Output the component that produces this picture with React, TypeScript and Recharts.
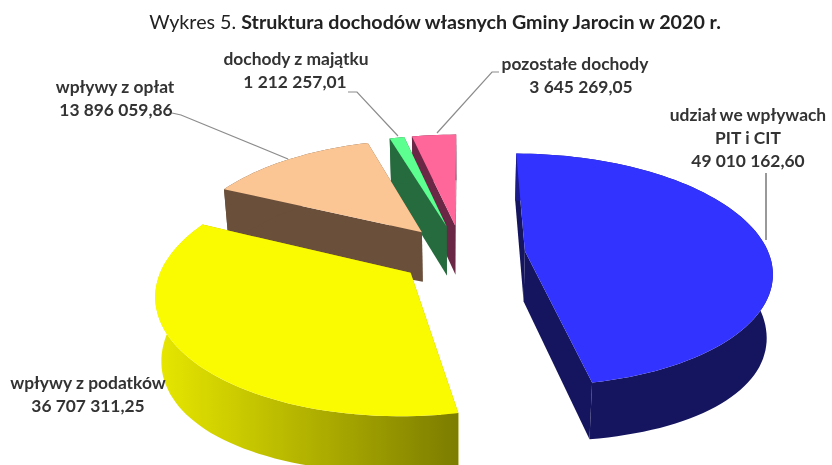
import { Pie, PieChart } from 'recharts';

// drawn back to front, so the list runs anticlockwise from 12 o'clock
const names = ['pozostałe dochody', 'dochody z majątku', 'wpływy z opłat', 'wpływy z podatków', 'udział we wpływach PIT i CIT'];
const values = [3645269.05, 1212257.01, 13896059.86, 36707311.25, 49010162.6];
const valueLabels = ['3 645 269,05', '1 212 257,01', '13 896 059,86', '36 707 311,25', '49 010 162,60'];
const topColors = ['#ff6699', '#5cff90', '#fbc694', '#fafa00', '#3333ff'];
const sideColors = ['#6b2746', '#266b3e', '#6a4f3b', '#b5b500', '#15155f'];

const data = names.map((name, i) => ({ name, value: values[i] }));

const WIDTH = 832;
const HEIGHT = 465;
const CX = 462;
const CY = 254;
const RADIUS = 244;
const TILT = 0.467;
const PERSPECTIVE = 0.16;
const EXPLODE = 0.26;
const DEPTH = 50;

const labelLayout = [
  { x: 575, y: 70, lines: ['pozostałe dochody'], valueX: 581, leader: '437,133 492,72 499,72', stroke: '#8c8c8c' },
  { x: 296, y: 65, lines: ['dochody z majątku'], valueX: 295, leader: '398,136 357,92 348,92', stroke: '#8c8c8c' },
  { x: 115, y: 93, lines: ['wpływy z opłat'], valueX: 116, leader: '172,113 181,115 288,159', stroke: '#8c8c8c' },
  { x: 88, y: 389, lines: ['wpływy z podatków'], valueX: 88, leader: '', stroke: '' },
  { x: 748, y: 121, lines: ['udział we wpływach', 'PIT i CIT'], valueX: 748, leader: '766,173 766,240', stroke: '#555555' },
];

type Pt = [number, number, number];

function project(u: number, v: number): Pt {
  const w = 1 + PERSPECTIVE * v;
  return [CX + (RADIUS * u) / w, CY - (RADIUS * TILT * v) / w, w];
}

// bottom rim of the slab, a bit deeper towards the far left and right
function drop(p: Pt): Pt {
  const side = (p[0] - CX) / RADIUS;
  return [CX + (p[0] - CX) * 0.98, p[1] + DEPTH / Math.sqrt(p[2]) + 8 * side * side, p[2]];
}

function toPath(points: Pt[]) {
  return 'M' + points.map((p) => `${p[0].toFixed(1)},${p[1].toFixed(1)}`).join('L') + 'Z';
}

function Slice3D(props: any) {
  const { startAngle, endAngle, index } = props;
  const rad = Math.PI / 180;
  const mid = ((startAngle + endAngle) / 2) * rad;
  const offU = EXPLODE * Math.cos(mid);
  const offV = EXPLODE * Math.sin(mid);

  const arc: Pt[] = [];
  const steps = Math.max(2, Math.ceil((endAngle - startAngle) / 2));
  for (let i = 0; i <= steps; i++) {
    const a = (startAngle + ((endAngle - startAngle) * i) / steps) * rad;
    arc.push(project(offU + Math.cos(a), offV + Math.sin(a)));
  }
  const apex = project(offU, offV);
  const first = arc[0];
  const last = arc[arc.length - 1];
  const lowered = arc.map(drop);
  const gradId = `side-${index}`;

  return (
    <g>
      <defs>
        {index === 3 && (
          <linearGradient id={gradId} x1="0" y1="0" x2="1" y2="0">
            <stop offset="0" stopColor="#e8e800" />
            <stop offset="1" stopColor="#7c7c00" />
          </linearGradient>
        )}
        {index === 4 && (
          <linearGradient id={gradId} x1="0" y1="0" x2="1" y2="0">
            <stop offset="0" stopColor="#1b1b8c" />
            <stop offset="0.3" stopColor="#15155f" />
            <stop offset="1" stopColor="#15155f" />
          </linearGradient>
        )}
      </defs>
      <path d={toPath([apex, first, drop(first), drop(apex)])} fill={sideColors[index]} />
      <path d={toPath([apex, last, drop(last), drop(apex)])} fill={sideColors[index]} />
      <path
        d={toPath([...arc, ...lowered.reverse()])}
        fill={index >= 3 ? `url(#${gradId})` : sideColors[index]}
      />
      <path d={toPath([apex, ...arc])} fill={topColors[index]} />
    </g>
  );
}

function SliceLabel(props: any) {
  const { index } = props;
  const item = labelLayout[index];
  const lineGap = 23;
  return (
    <g>
      {item.leader && <polyline points={item.leader} fill="none" stroke={item.stroke} strokeWidth={1.2} />}
      <text fontFamily="Lato" fontWeight={700} fontSize={17.4} fill="#333333" textAnchor="middle">
        {item.lines.map((line, i) => (
          <tspan key={line} x={item.x} y={item.y + i * lineGap}>
            {line}
          </tspan>
        ))}
        <tspan x={item.valueX} y={item.y + item.lines.length * lineGap}>
          {valueLabels[index]}
        </tspan>
      </text>
    </g>
  );
}

export default function App() {
  return (
    <div style={{ position: 'absolute', left: 0, top: 0, width: WIDTH, height: HEIGHT, background: '#fff', overflow: 'hidden', filter: 'blur(0.4px)' }}>
      <div
        style={{
          position: 'absolute',
          left: 0,
          top: 10,
          width: 870,
          textAlign: 'center',
          fontFamily: 'Lato',
          fontSize: 19.7,
          color: '#222',
          whiteSpace: 'nowrap',
        }}
      >
        Wykres 5. <b>Struktura dochodów własnych Gminy Jarocin w 2020 r.</b>
      </div>
      <PieChart width={WIDTH} height={HEIGHT} margin={{ top: 0, right: 0, bottom: 0, left: 0 }}>
        <Pie
          data={data}
          dataKey="value"
          nameKey="name"
          cx={CX}
          cy={CY}
          outerRadius={RADIUS}
          startAngle={90}
          endAngle={450}
          stroke="none"
          shape={Slice3D}
          label={SliceLabel}
          labelLine={false}
          isAnimationActive={false}
        />
      </PieChart>
    </div>
  );
}
